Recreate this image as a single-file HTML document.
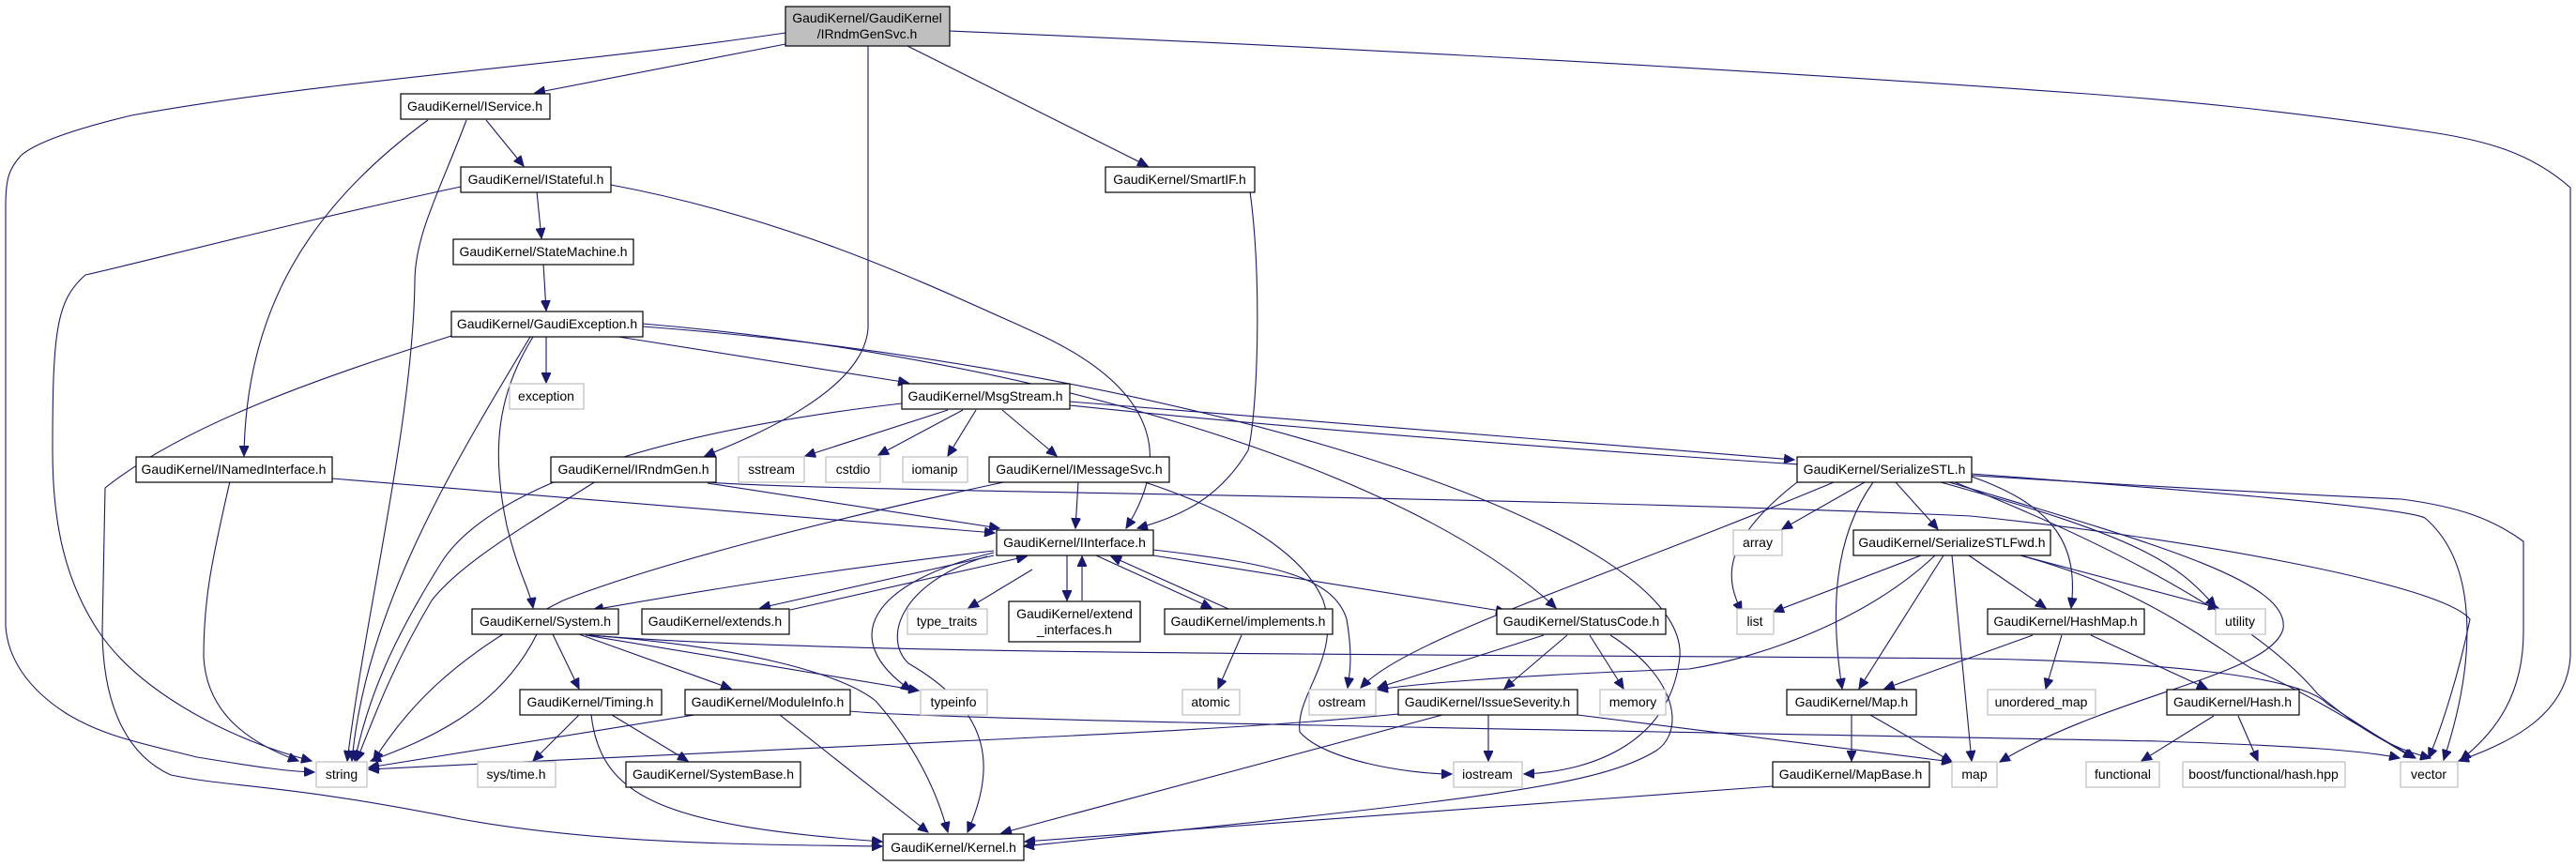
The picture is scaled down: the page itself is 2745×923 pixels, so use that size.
<!DOCTYPE html>
<html><head><meta charset="utf-8"><style>
html,body{margin:0;padding:0;background:#fff;}
svg{display:block;}
text{font-family:"Liberation Sans",Arial,sans-serif;font-size:14px;text-anchor:middle;fill:#000;}
.b{fill:#fff;stroke:#000;stroke-width:1.2;}
.g{fill:#fff;stroke:#bfbfbf;stroke-width:1.2;}
path{fill:none;stroke:#191970;stroke-width:1.1;marker-end:url(#a);}
</style></head><body>
<svg width="2745" height="923" viewBox="0 0 2745 923" xmlns="http://www.w3.org/2000/svg">
<defs><marker id="a" markerUnits="userSpaceOnUse" markerWidth="12" markerHeight="10" refX="11" refY="5" orient="auto"><path d="M0,0 L11,5 L0,10 z" style="fill:#191970;stroke:#191970;marker-end:none"/></marker></defs>

<!-- edges -->
<path d="M837,35 C600,70 344,86 140,123 C90,135 40,150 22,166 C10,180 6,189 6,220 L6,667 C8,700 28,733 70,760 C110,785 154,793 210,807 C260,815 300,822 335,823"/>
<path d="M837,47 L570,99"/>
<path d="M925,49 L925,350 C920,420 790,470 751,486"/>
<path d="M967,49 L1223,177"/>
<path d="M1012,33 C1300,45 1779,68 2224,100 C2330,108 2436,118 2591,141 C2650,150 2697,163 2739,200 L2739,700 C2735,760 2680,790 2620,811"/>
<path d="M518,128 L558,177"/>
<path d="M456,128 C330,220 262,330 260,486"/>
<path d="M497,128 C470,200 442,250 442,300 C440,450 390,650 370,811"/>
<path d="M491,199 C300,240 150,280 91,293 C60,320 56,353 56,480 C56,560 70,620 105,673 C150,740 250,790 332,811"/>
<path d="M651,197 C842,233 982,300 1100,353 C1250,420 1240,500 1200,563"/>
<path d="M572,204 L577,254"/>
<path d="M579,281 L582,331"/>
<path d="M582,359 L582,408"/>
<path d="M659,359 L968,408"/>
<path d="M565,359 C480,500 390,650 375,811"/>
<path d="M568,359 C530,420 523,480 540,560 C552,610 565,630 568,648"/>
<path d="M481,358 C350,400 200,450 112,520 L109,673 C110,760 140,807 182,826 C250,840 300,835 491,873 C640,900 800,900 940,902"/>
<path d="M685,345 C1100,380 1500,500 1658,648"/>
<path d="M685,348 C1250,390 1800,560 1790,700 C1780,790 1700,822 1624,825"/>
<path d="M961,430 C700,460 520,520 470,600 C420,680 393,740 378,811"/>
<path d="M1010,437 L858,486"/>
<path d="M1026,437 L936,485"/>
<path d="M1040,437 L1010,486"/>
<path d="M1068,437 L1126,486"/>
<path d="M1140,428 L1912,490"/>
<path d="M1140,432 C1600,480 2300,520 2559,532 C2620,540 2656,553 2689,577 L2689,673 C2689,740 2660,780 2622,810"/>
<path d="M1332,204 C1345,300 1340,440 1330,480 C1300,530 1260,550 1212,563"/>
<path d="M354,510 L1060,568"/>
<path d="M245,513 C225,600 217,640 217,700 C220,757 260,790 318,811"/>
<path d="M754,515 L1065,563"/>
<path d="M635,513 C560,560 491,600 460,640 C420,707 400,760 380,811"/>
<path d="M754,514 C900,525 1610,528 2100,550 C2300,570 2600,620 2632,660 C2620,720 2600,780 2588,808"/>
<path d="M1149,513 L1146,563"/>
<path d="M1074,513 C900,550 701,600 600,640 C480,700 430,760 398,811"/>
<path d="M1217,513 C1300,540 1386,583 1410,640 C1430,700 1380,740 1385,780 C1410,810 1500,825 1547,825"/>
<path d="M1059,587 C950,600 842,613 632,650"/>
<path d="M1059,592 L810,648"/>
<path d="M842,650 L1094,593"/>
<path d="M1100,607 L1032,648"/>
<path d="M1059,589 C930,620 890,680 971,736"/>
<path d="M1052,593 C960,620 940,680 968,707 C1060,760 1060,820 1031,887"/>
<path d="M1137,592 L1137,640"/>
<path d="M1153,640 L1153,593"/>
<path d="M1168,592 L1291,648"/>
<path d="M1309,649 L1184,593"/>
<path d="M1229,586 C1350,600 1421,613 1435,660 C1442,700 1438,720 1436,733"/>
<path d="M1229,592 L1605,652"/>
<path d="M589,676 L617,734"/>
<path d="M617,676 L779,734"/>
<path d="M624,677 L979,736"/>
<path d="M572,676 C530,760 450,790 395,811"/>
<path d="M628,677 C800,690 900,720 933,747 C980,800 1000,850 1010,887"/>
<path d="M628,677 C900,700 1631,697 2100,702 C2300,705 2450,720 2480,750 C2540,790 2560,800 2574,808"/>
<path d="M617,762 L568,811"/>
<path d="M652,762 L733,811"/>
<path d="M630,762 C640,847 700,880 940,897"/>
<path d="M740,762 L393,818"/>
<path d="M831,762 L989,887"/>
<path d="M906,758 C1000,768 1800,780 2300,790 C2450,795 2520,800 2557,808"/>
<path d="M1490,761 C1300,780 1100,785 393,820"/>
<path d="M1586,762 L1586,811"/>
<path d="M1537,762 L1067,888"/>
<path d="M1681,762 L2080,812"/>
<path d="M1645,677 L1468,733"/>
<path d="M1670,677 L1603,734"/>
<path d="M1694,677 L1730,734"/>
<path d="M1716,677 C1789,723 1795,780 1765,800 C1700,840 1561,853 1091,902"/>
<path d="M1323,677 L1298,734"/>
<path d="M1987,514 L1899,564"/>
<path d="M2020,514 L2065,564"/>
<path d="M1915,514 C1830,580 1840,620 1856,652"/>
<path d="M1954,514 C1700,620 1500,680 1450,733"/>
<path d="M1996,514 C1954,573 1950,650 1963,734"/>
<path d="M2101,508 C2192,540 2215,583 2207,648"/>
<path d="M2068,514 C2282,573 2320,600 2361,647"/>
<path d="M2077,514 C2300,580 2440,620 2433,670 C2420,720 2250,740 2131,812"/>
<path d="M2101,505 C2300,520 2560,540 2584,552 C2640,600 2640,700 2604,810"/>
<path d="M2083,514 C2300,600 2420,680 2470,740 C2530,790 2560,800 2590,808"/>
<path d="M2047,592 L1890,652"/>
<path d="M2071,592 L1981,734"/>
<path d="M2062,592 C1990,660 1880,700 1800,713 C1600,720 1500,730 1468,735"/>
<path d="M2080,592 L2101,811"/>
<path d="M2098,592 L2180,648"/>
<path d="M2153,592 L2364,648"/>
<path d="M2153,592 C2282,627 2342,677 2400,713 C2463,740 2540,790 2572,808"/>
<path d="M2166,677 L2008,734"/>
<path d="M2197,677 L2180,734"/>
<path d="M2228,677 L2352,734"/>
<path d="M1973,762 L1973,811"/>
<path d="M1993,762 L2080,812"/>
<path d="M2359,763 L2282,811"/>
<path d="M2385,763 L2406,811"/>
<path d="M1889,838 L1092,897"/>

<!-- nodes -->
<rect x="837" y="7" width="175" height="42" style="fill:#bfbfbf;stroke:#000;stroke-width:1.2"/>
<text x="924" y="24">GaudiKernel/GaudiKernel</text><text x="924" y="41">/IRndmGenSvc.h</text>
<rect class="b" x="427" y="100" width="159" height="27"/><text x="506" y="118">GaudiKernel/IService.h</text>
<rect class="b" x="1178" y="178" width="159" height="27"/><text x="1257" y="196">GaudiKernel/SmartIF.h</text>
<rect class="b" x="491" y="178" width="160" height="27"/><text x="571" y="196">GaudiKernel/IStateful.h</text>
<rect class="b" x="483" y="255" width="192" height="27"/><text x="579" y="273">GaudiKernel/StateMachine.h</text>
<rect class="b" x="481" y="332" width="204" height="27"/><text x="583" y="350">GaudiKernel/GaudiException.h</text>
<rect class="g" x="543" y="409" width="79" height="27"/><text x="582" y="427">exception</text>
<rect class="b" x="961" y="409" width="179" height="27"/><text x="1050" y="427">GaudiKernel/MsgStream.h</text>
<rect class="b" x="145" y="487" width="209" height="27"/><text x="249" y="505">GaudiKernel/INamedInterface.h</text>
<rect class="b" x="587" y="487" width="176" height="27"/><text x="675" y="505">GaudiKernel/IRndmGen.h</text>
<rect class="g" x="787" y="487" width="70" height="27"/><text x="822" y="505">sstream</text>
<rect class="g" x="880" y="487" width="58" height="27"/><text x="909" y="505">cstdio</text>
<rect class="g" x="962" y="487" width="69" height="27"/><text x="996" y="505">iomanip</text>
<rect class="b" x="1054" y="487" width="192" height="27"/><text x="1150" y="505">GaudiKernel/IMessageSvc.h</text>
<rect class="b" x="1915" y="487" width="186" height="27"/><text x="2008" y="505">GaudiKernel/SerializeSTL.h</text>
<rect class="b" x="1062" y="565" width="167" height="27"/><text x="1145" y="583">GaudiKernel/IInterface.h</text>
<rect class="g" x="1847" y="565" width="52" height="27"/><text x="1873" y="583">array</text>
<rect class="b" x="1975" y="565" width="210" height="27"/><text x="2080" y="583">GaudiKernel/SerializeSTLFwd.h</text>
<rect class="b" x="503" y="649" width="156" height="27"/><text x="581" y="667">GaudiKernel/System.h</text>
<rect class="b" x="684" y="649" width="157" height="27"/><text x="762" y="667">GaudiKernel/extends.h</text>
<rect class="g" x="967" y="649" width="85" height="27"/><text x="1009" y="667">type_traits</text>
<rect class="b" x="1075" y="641" width="140" height="43"/><text x="1145" y="659">GaudiKernel/extend</text><text x="1145" y="676">_interfaces.h</text>
<rect class="b" x="1241" y="649" width="179" height="27"/><text x="1330" y="667">GaudiKernel/implements.h</text>
<rect class="b" x="1595" y="649" width="180" height="27"/><text x="1685" y="667">GaudiKernel/StatusCode.h</text>
<rect class="g" x="1851" y="649" width="39" height="27"/><text x="1870" y="667">list</text>
<rect class="b" x="2118" y="649" width="167" height="27"/><text x="2201" y="667">GaudiKernel/HashMap.h</text>
<rect class="g" x="2361" y="649" width="53" height="27"/><text x="2387" y="667">utility</text>
<rect class="b" x="554" y="735" width="151" height="27"/><text x="629" y="753">GaudiKernel/Timing.h</text>
<rect class="b" x="730" y="735" width="176" height="27"/><text x="818" y="753">GaudiKernel/ModuleInfo.h</text>
<rect class="g" x="981" y="735" width="71" height="27"/><text x="1016" y="753">typeinfo</text>
<rect class="g" x="1260" y="735" width="61" height="27"/><text x="1290" y="753">atomic</text>
<rect class="g" x="1395" y="735" width="71" height="27"/><text x="1430" y="753">ostream</text>
<rect class="b" x="1490" y="735" width="191" height="27"/><text x="1585" y="753">GaudiKernel/IssueSeverity.h</text>
<rect class="g" x="1705" y="735" width="70" height="27"/><text x="1740" y="753">memory</text>
<rect class="b" x="1904" y="735" width="138" height="27"/><text x="1973" y="753">GaudiKernel/Map.h</text>
<rect class="g" x="2118" y="735" width="115" height="27"/><text x="2175" y="753">unordered_map</text>
<rect class="b" x="2309" y="735" width="141" height="27"/><text x="2379" y="753">GaudiKernel/Hash.h</text>
<rect class="g" x="337" y="812" width="54" height="27"/><text x="364" y="830">string</text>
<rect class="g" x="509" y="812" width="83" height="27"/><text x="550" y="830">sys/time.h</text>
<rect class="b" x="667" y="812" width="186" height="27"/><text x="760" y="830">GaudiKernel/SystemBase.h</text>
<rect class="g" x="1549" y="812" width="73" height="27"/><text x="1585" y="830">iostream</text>
<rect class="b" x="1889" y="812" width="167" height="27"/><text x="1972" y="830">GaudiKernel/MapBase.h</text>
<rect class="g" x="2080" y="812" width="48" height="27"/><text x="2104" y="830">map</text>
<rect class="g" x="2223" y="812" width="78" height="27"/><text x="2262" y="830">functional</text>
<rect class="g" x="2326" y="812" width="173" height="27"/><text x="2412" y="830">boost/functional/hash.hpp</text>
<rect class="g" x="2558" y="812" width="61" height="27"/><text x="2588" y="830">vector</text>
<rect class="b" x="941" y="889" width="150" height="28"/><text x="1016" y="908">GaudiKernel/Kernel.h</text>
</svg>
</body></html>
